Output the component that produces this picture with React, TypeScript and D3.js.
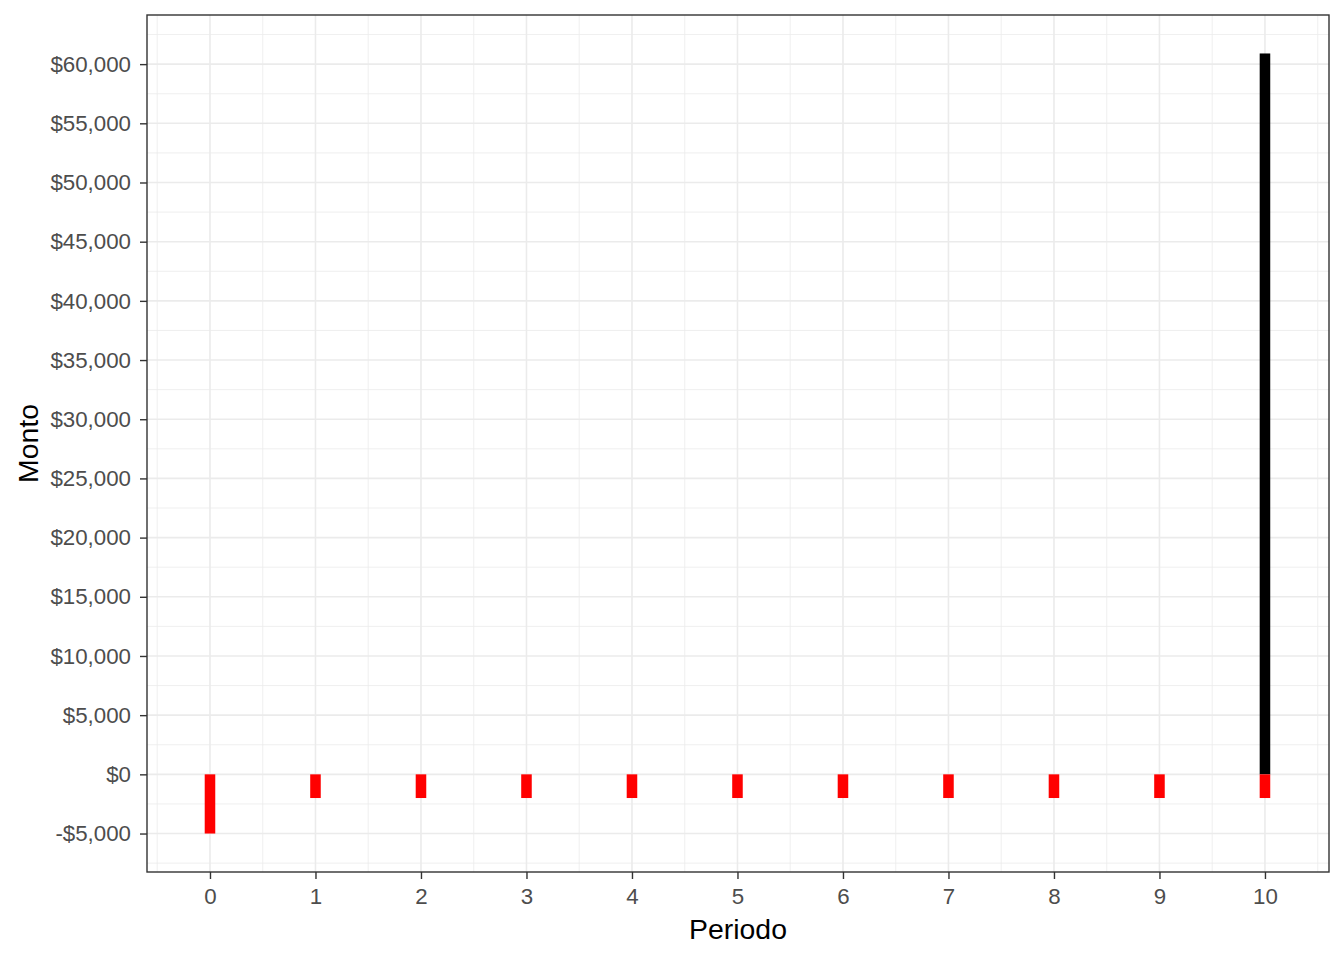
import { useEffect, useRef } from "react";
import * as d3 from "d3";

const periods = [0, 1, 2, 3, 4, 5, 6, 7, 8, 9, 10];
const outflows = [-5000, -2000, -2000, -2000, -2000, -2000, -2000, -2000, -2000, -2000, -2000];
const inflowPeriods = [10];
const inflows = [60900];
const yTicks = [-5000, 0, 5000, 10000, 15000, 20000, 25000, 30000, 35000, 40000, 45000, 50000, 55000, 60000];

export default function App() {
    const svgRef = useRef(null);

    useEffect(() => {
        const width = 1344, height = 960;
        const margin = { top: 15, right: 15, bottom: 88, left: 147 };
        const font = "Liberation Sans, Arial, sans-serif";

        const svg = d3.select(svgRef.current)
            .attr("width", width)
            .attr("height", height)
            .style("display", "block")
            .style("position", "absolute")
            .style("left", 0)
            .style("top", 0);

        svg.selectAll("*").remove();

        const x = d3.scaleLinear()
            .domain([-0.597, 10.607])
            .range([margin.left, width - margin.right]);

        const y = d3.scaleLinear()
            .domain([-8250, 64150])
            .range([height - margin.bottom, margin.top]);

        svg.append("rect")
            .attr("width", width).attr("height", height).attr("fill", "#fff");

        const grid = svg.append("g");
        // minor grid
        const xMinor = d3.range(-0.5, 10.6, 1);
        const yMinor = d3.range(-7500, 64000, 5000);
        grid.selectAll(".xm").data(xMinor).join("line")
            .attr("x1", d => x(d)).attr("x2", d => x(d))
            .attr("y1", margin.top).attr("y2", height - margin.bottom)
            .attr("stroke", "#EBEBEB").attr("stroke-width", 0.8);
        grid.selectAll(".ym").data(yMinor).join("line")
            .attr("y1", d => y(d)).attr("y2", d => y(d))
            .attr("x1", margin.left).attr("x2", width - margin.right)
            .attr("stroke", "#EBEBEB").attr("stroke-width", 0.8);
        // major grid
        grid.selectAll(".xM").data(periods).join("line")
            .attr("x1", d => x(d)).attr("x2", d => x(d))
            .attr("y1", margin.top).attr("y2", height - margin.bottom)
            .attr("stroke", "#EBEBEB").attr("stroke-width", 1.6);
        grid.selectAll(".yM").data(yTicks).join("line")
            .attr("y1", d => y(d)).attr("y2", d => y(d))
            .attr("x1", margin.left).attr("x2", width - margin.right)
            .attr("stroke", "#EBEBEB").attr("stroke-width", 1.6);

        const barW = x(0.1) - x(0);

        // inflow bars (black)
        svg.selectAll(".in")
            .data(inflows)
            .join("rect")
            .attr("x", (d, i) => x(inflowPeriods[i]) - barW / 2)
            .attr("y", d => y(d))
            .attr("width", barW)
            .attr("height", d => y(0) - y(d))
            .attr("fill", "#000");

        // outflow bars (red)
        svg.selectAll(".out")
            .data(outflows)
            .join("rect")
            .attr("x", (d, i) => x(periods[i]) - barW / 2)
            .attr("y", y(0))
            .attr("width", barW)
            .attr("height", d => y(d) - y(0))
            .attr("fill", "#FF0000");

        // panel border
        svg.append("rect")
            .attr("x", margin.left).attr("y", margin.top)
            .attr("width", width - margin.left - margin.right)
            .attr("height", height - margin.top - margin.bottom)
            .attr("fill", "none").attr("stroke", "#333333").attr("stroke-width", 1.4);

        const fmt = d => (d < 0 ? "-$" : "$") + d3.format(",")(Math.abs(d));

        // Y axis
        const yAxis = svg.append("g")
            .attr("transform", `translate(${margin.left},0)`)
            .call(d3.axisLeft(y).tickValues(yTicks).tickFormat(fmt).tickSize(7).tickPadding(9));
        yAxis.select(".domain").remove();
        yAxis.selectAll("line").attr("stroke", "#333333").attr("stroke-width", 1.4);
        yAxis.selectAll("text")
            .attr("fill", "#4D4D4D")
            .style("font-family", font)
            .style("font-size", "22.3px");

        // X axis
        const xAxis = svg.append("g")
            .attr("transform", `translate(0,${height - margin.bottom})`)
            .call(d3.axisBottom(x).tickValues(periods).tickFormat(d3.format("d")).tickSize(7).tickPadding(9));
        xAxis.select(".domain").remove();
        xAxis.selectAll("line").attr("stroke", "#333333").attr("stroke-width", 1.4);
        xAxis.selectAll("text")
            .attr("fill", "#4D4D4D")
            .style("font-family", font)
            .style("font-size", "22.3px");

        // titles
        svg.append("text")
            .attr("x", (margin.left + width - margin.right) / 2)
            .attr("y", 939)
            .attr("text-anchor", "middle")
            .style("font-family", font)
            .style("font-size", "28.4px")
            .text("Periodo");

        svg.append("text")
            .attr("transform", `translate(38,${(margin.top + height - margin.bottom) / 2}) rotate(-90)`)
            .attr("text-anchor", "middle")
            .style("font-family", font)
            .style("font-size", "28.4px")
            .text("Monto");
    }, []);

    return <svg ref={svgRef} />;
}
